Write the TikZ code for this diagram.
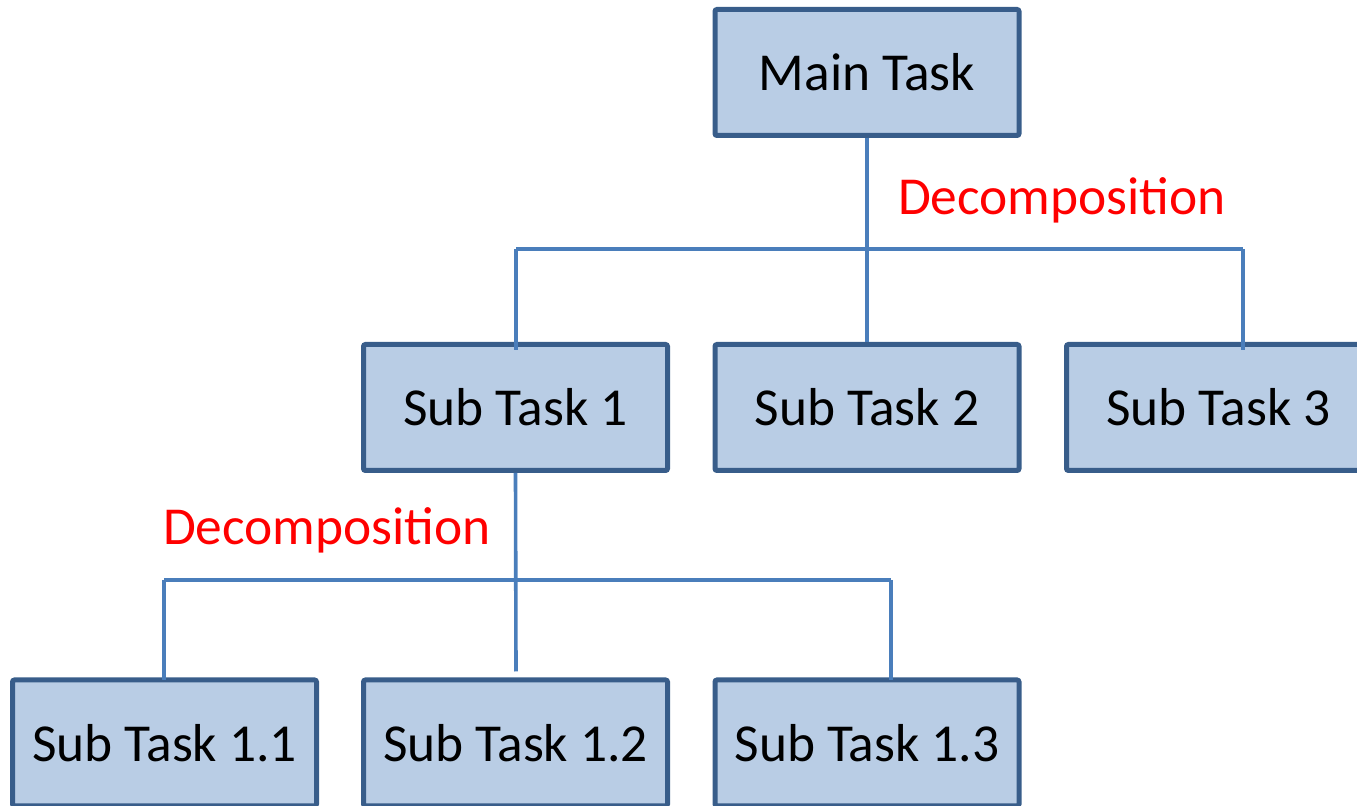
\documentclass[tikz,border=0pt]{standalone}
\usepackage{fontspec}
\setmainfont{Carlito}
\usetikzlibrary{calc}
\definecolor{boxborder}{HTML}{385D8A}
\definecolor{boxfill}{HTML}{B9CDE5}
\definecolor{conn}{HTML}{4A7EBB}
\begin{document}
\begin{tikzpicture}[x=0.5pt,y=-0.5pt,
  task/.style={draw=boxborder,fill=boxfill,line width=2.5pt,rounded corners=1pt,
    minimum width=152pt,minimum height=63pt,inner sep=0pt,font=\fontsize{26.7}{30}\selectfont},
  link/.style={draw=conn,line width=1.8pt},
  label/.style={text=red,font=\fontsize{26.7}{30}\selectfont,inner sep=0pt}]
\useasboundingbox (0,0) rectangle (1357,806);
\clip (0,0) rectangle (1357,806);
\node[task] (main) at (867,72.5) {Main Task};
\node[task] (s1) at (515.5,407.5) {Sub Task 1};
\node[task] (s2) at (867,407.5) {Sub Task 2};
\node[task] (s3) at (1218.5,407.5) {Sub Task 3};
\node[task] (s11) at (164.5,743) {Sub Task 1.1};
\node[task] (s12) at (515.5,743) {Sub Task 1.2};
\node[task] (s13) at (867,743) {Sub Task 1.3};
\node[label] (d1) at (1062,200) {Decomposition};
\node[label] (d2) at (327,530) {Decomposition};
% upper tree
\coordinate (ja) at (867,249);
\coordinate (jl) at (516,249);
\coordinate (jr) at (1243,249);
\draw[link] (main.south) -- (ja);
\draw[link] (jl) -- (jr);
\draw[link] (ja) -- (s2.north);
\draw[link] (jl) -- ($(s1.north)+(0.5,8)$);
\draw[link] (jr) -- ($(s3.north)+(24.5,8)$);
% lower tree
\coordinate (jb) at (516,580);
\coordinate (kl) at (164,580);
\coordinate (kr) at (891,580);
\draw[link] (s1.south) -- ($(s12.north)+(0.5,-6)$);
\draw[link] (kl) -- (kr);
\draw[link] (kl) -- ($(s11.north)+(-0.5,3)$);
\draw[link] (kr) -- ($(s13.north)+(24,3)$);
\end{tikzpicture}
\end{document}
